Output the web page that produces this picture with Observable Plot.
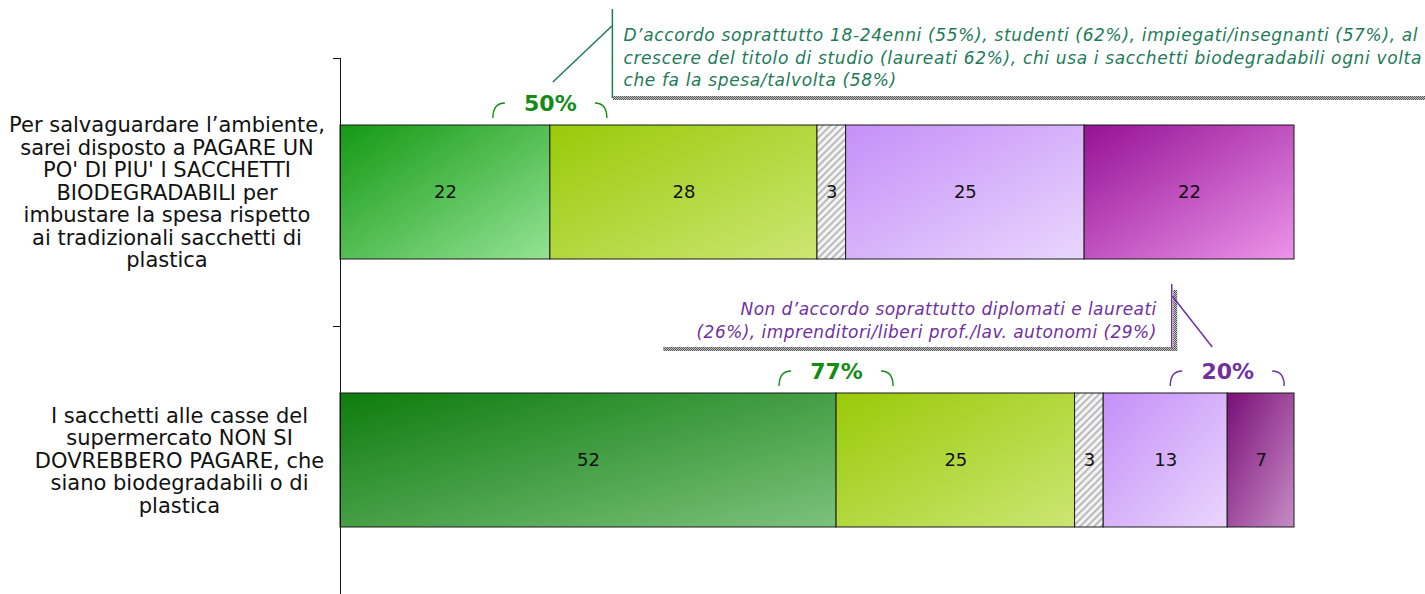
<!DOCTYPE html>
<html>
<head>
<meta charset="utf-8">
<script src="https://cdn.jsdelivr.net/npm/d3@7"></script>
<script src="https://cdn.jsdelivr.net/npm/@observablehq/plot@0.6"></script>
<style>
  html, body { margin: 0; padding: 0; background: #fff; }
  svg { display: block; }
</style>
</head>
<body>
<div id="chart"></div>
<script>
// ---- data ----
const categories = ["pagare", "nonPagare"];
const categoryLabels = [
  "Per salvaguardare l’ambiente,\nsarei disposto a PAGARE UN\nPO' DI PIU' I SACCHETTI\nBIODEGRADABILI per\nimbustare la spesa rispetto\nai tradizionali sacchetti di\nplastica",
  "I sacchetti alle casse del\nsupermercato NON SI\nDOVREBBERO PAGARE, che\nsiano biodegradabili o di\nplastica"
];
const seriesNames = ["Molto d'accordo", "Abbastanza d'accordo", "Non indica", "Poco d'accordo", "Per niente d'accordo"];
const valuesPagare = [22, 28, 3, 25, 22];
const valuesNonPagare = [52, 25, 3, 13, 7];
const agreeSeries = [0, 1];
const disagreeSeries = [3, 4];
// which totals are shown: [row, group]
const shownTotals = [[0, "agree"], [1, "agree"], [1, "disagree"]];
const calloutAgree = "D’accordo soprattutto 18-24enni (55%), studenti (62%), impiegati/insegnanti (57%), al\ncrescere del titolo di studio (laureati 62%), chi usa i sacchetti biodegradabili ogni volta\nche fa la spesa/talvolta (58%)";
const calloutDisagree = "Non d’accordo soprattutto diplomati e laureati\n(26%), imprenditori/liberi prof./lav. autonomi (29%)";

// ---- derived tables ----
const allValues = [valuesPagare, valuesNonPagare];
const rows = categories.flatMap((c, r) =>
  seriesNames.map((s, i) => ({category: c, row: r, series: s, s: i, value: allValues[r][i]}))
);
const cum = (r, k) => d3.sum(allValues[r].slice(0, k));
const totals = shownTotals.map(([r, g]) => {
  const idx = g === "agree" ? agreeSeries : disagreeSeries;
  const total = d3.sum(idx, i => allValues[r][i]);
  const center = cum(r, idx[0] + 1);
  return {category: categories[r], row: r, group: g, label: total + "%", center};
});
const calloutA = totals.find(t => t.row === 0 && t.group === "agree");
const calloutD = totals.find(t => t.row === 1 && t.group === "disagree");
const labelRows = categories.map((c, r) => ({category: c, label: categoryLabels[r]}));

const GREEN = "#138c13", PURPLE = "#7030a0", TEAL = "#1d7a58";

// ---- custom decorations (axis ticks, brackets, callout frames) drawn through scales ----
function decorations(index, scales, values, dims) {
  const {x, y} = scales;
  const bw = y.bandwidth();
  const y0 = y(categories[0]);
  const step = y(categories[1]) - y0;
  const pad = (step - bw) / 2;
  const g = d3.create("svg:g").attr("fill", "none");
  for (let i = 0; i <= categories.length; i++) {
    const yy = Math.round(y0 - pad + i * step) + 0.5;
    g.append("line").attr("x1", dims.marginLeft - 7).attr("x2", dims.marginLeft)
      .attr("y1", yy).attr("y2", yy).attr("stroke", "#111");
  }
  for (const t of totals) {
    const cx = x(t.center), top = y(t.category);
    const col = t.group === "agree" ? GREEN : PURPLE;
    g.append("path").attr("stroke", col).attr("stroke-width", 1.4)
      .attr("d", `M${cx - 57},${top - 7} Q${cx - 57},${top - 22} ${cx - 45},${top - 22}`);
    g.append("path").attr("stroke", col).attr("stroke-width", 1.4)
      .attr("d", `M${cx + 45},${top - 22} Q${cx + 57},${top - 22} ${cx + 57},${top - 7}`);
  }
  {
    const cx = x(calloutA.center), top = y(calloutA.category);
    g.append("rect").attr("x", cx + 63).attr("y", top - 29).attr("width", dims.width - cx - 63).attr("height", 4)
      .attr("fill", "url(#checker)");
    g.append("line").attr("x1", cx + 62.5).attr("x2", cx + 62.5).attr("y1", top - 116).attr("y2", top - 27)
      .attr("stroke", TEAL).attr("stroke-width", 1.5);
    g.append("line").attr("x1", cx + 3).attr("y1", top - 43).attr("x2", cx + 62).attr("y2", top - 99)
      .attr("stroke", TEAL).attr("stroke-width", 1.5);
  }
  {
    const cx = x(calloutD.center), top = y(calloutD.category) + 2;
    g.append("rect").attr("x", cx - 54).attr("y", top - 105).attr("width", 4).attr("height", 61)
      .attr("fill", "url(#checker)");
    g.append("rect").attr("x", cx - 564).attr("y", top - 48).attr("width", 514).attr("height", 4)
      .attr("fill", "url(#checker)");
    g.append("line").attr("x1", cx - 55.5).attr("x2", cx - 55.5).attr("y1", top - 111).attr("y2", top - 47)
      .attr("stroke", PURPLE).attr("stroke-width", 1.5);
    g.append("line").attr("x1", cx - 55).attr("y1", top - 99).attr("x2", cx - 15).attr("y2", top - 48)
      .attr("stroke", PURPLE).attr("stroke-width", 1.5);
  }
  return g.node();
}

const gradientColors = {
  "0-0": ["#149914", "#94e394"],
  "1-0": ["#0e7c0e", "#7cc27c"],
  "0-1": ["#99ca08", "#cbe673"],
  "1-1": ["#99ca08", "#cbe673"],
  "0-3": ["#c58ff8", "#e9d6fd"],
  "1-3": ["#c58ff8", "#e9d6fd"],
  "0-4": ["#951195", "#ec94ea"],
  "1-4": ["#7a0f78", "#c68cc5"]
};
const fillOf = d => d.s === 2 ? "url(#hatch)" : `url(#grad-${d.row}-${d.s})`;

const chart = Plot.plot({
  width: 1425,
  height: 594,
  marginLeft: 340,
  marginRight: 131,
  marginTop: 58,
  marginBottom: 0,
  style: {fontFamily: "DejaVu Sans, Verdana, sans-serif", fontSize: "18px", background: "#fff", overflow: "visible"},
  x: {domain: [0, 100], axis: null},
  y: {domain: categories, paddingInner: 0.5, paddingOuter: 0.25, axis: null},
  color: {type: "identity"},
  marks: [
    Plot.barX(rows, Plot.stackX({x: "value", y: "category", z: "s", fill: fillOf, stroke: "#1a1a1a", strokeWidth: 1})),
    Plot.text(rows, Plot.stackX({x: "value", y: "category", z: "s", text: d => String(d.value), fill: "#111", fontSize: 18})),
    Plot.ruleX([0], {stroke: "#111"}),
    Plot.text(labelRows.slice(0, 1), {y: "category", text: "label", frameAnchor: "left", dx: -173.5, textAnchor: "middle", fontSize: 21, lineHeight: 1.07, fill: "#111"}),
    Plot.text(labelRows.slice(1, 2), {y: "category", text: "label", frameAnchor: "left", dx: -161, textAnchor: "middle", fontSize: 21, lineHeight: 1.07, fill: "#111"}),
    Plot.text(totals, {x: "center", y: "category", text: "label", dy: -89, fontWeight: "bold", fontSize: 22,
      fill: d => d.group === "agree" ? GREEN : PURPLE}),
    Plot.text([calloutA], {x: "center", y: "category", text: () => calloutAgree, textAnchor: "start", lineAnchor: "top",
      dx: 73, dy: -167, fontStyle: "italic", fontSize: 17, lineHeight: 1.32, fill: TEAL}),
    Plot.text([calloutD], {x: "center", y: "category", text: () => calloutDisagree, textAnchor: "end", lineAnchor: "top",
      dx: -71, dy: -162, fontStyle: "italic", fontSize: 17, lineHeight: 1.35, fill: PURPLE}),
    decorations
  ]
});

const svg = d3.select(chart);
svg.selectAll("g").filter(function() {
  return this.getAttribute("font-style") === "italic" && this.getAttribute("fill") === TEAL;
}).style("letter-spacing", "0.65px");
svg.selectAll("g").filter(function() {
  return this.getAttribute("font-style") === "italic" && this.getAttribute("fill") === PURPLE;
}).style("letter-spacing", "0.45px");

// gradient / pattern definitions
const defs = svg.insert("defs", ":first-child");
for (const [key, [c0, c1]] of Object.entries(gradientColors)) {
  const lg = defs.append("linearGradient").attr("id", `grad-${key}`)
    .attr("x1", 0).attr("y1", 0).attr("x2", 1).attr("y2", 1);
  lg.append("stop").attr("offset", "0%").attr("stop-color", c0);
  lg.append("stop").attr("offset", "100%").attr("stop-color", c1);
}
const hatch = defs.append("pattern").attr("id", "hatch").attr("patternUnits", "userSpaceOnUse")
  .attr("width", 5).attr("height", 5).attr("patternTransform", "rotate(45)");
hatch.append("rect").attr("width", 5).attr("height", 5).attr("fill", "#f3f3f3");
hatch.append("rect").attr("width", 1.8).attr("height", 5).attr("fill", "#b5b5b5");
const checker = defs.append("pattern").attr("id", "checker").attr("patternUnits", "userSpaceOnUse")
  .attr("width", 2).attr("height", 2);
checker.append("rect").attr("width", 2).attr("height", 2).attr("fill", "#c4c4c4");
checker.append("rect").attr("width", 1).attr("height", 1).attr("fill", "#555");
checker.append("rect").attr("x", 1).attr("y", 1).attr("width", 1).attr("height", 1).attr("fill", "#555");

document.getElementById("chart").appendChild(chart);
</script>
</body>
</html>
